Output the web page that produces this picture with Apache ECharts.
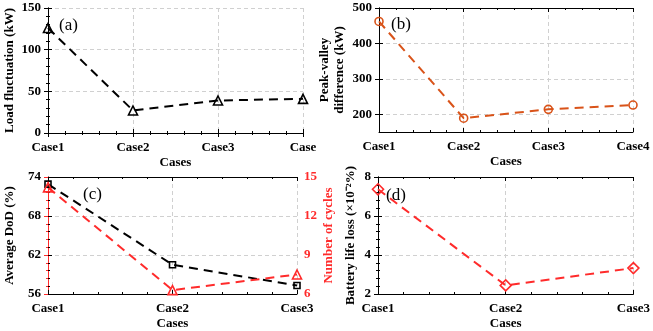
<!DOCTYPE html>
<html><head><meta charset="utf-8">
<script src="https://cdn.jsdelivr.net/npm/echarts@6/dist/echarts.min.js"></script>
<style>html,body{margin:0;padding:0;background:#fff}#c{width:653px;height:331px}</style>
</head><body><div id="c"></div>
<script>
// ---- data ----
const casesA = ["Case1", "Case2", "Case3", "Case4"];
const xTickLabelsA = ["Case1", "Case2", "Case3", "Case"];
const loadFluctuation = [126, 27, 39, 41];
const yTicksA = [0, 50, 100, 150];

const casesB = ["Case1", "Case2", "Case3", "Case4"];
const peakValley = [462, 189, 214, 226];
const yRangeB = [150, 500];
const yTicksB = [200, 300, 400, 500];

const casesC = ["Case1", "Case2", "Case3"];
const avgDoD = [72.9, 60.5, 57.3];
const numCycles = [14.2, 6.3, 7.5];
const yTicksC = [56, 62, 68, 74];
const yTicksC2 = [6, 9, 12, 15];

const casesD = ["Case1", "Case2", "Case3"];
const lifeLoss = [7.37, 2.44, 3.33];
const yTicksD = [2, 4, 6, 8];

// ---- styles ----
const FONT = "'Liberation Serif','Times New Roman',serif";
const BLACK = '#000';
const ORANGE = '#D95319';
const RED = '#ff2b2b';
const grids = [
  {left: 48, top: 8, width: 255, height: 125},
  {left: 379, top: 8, width: 254, height: 124},
  {left: 48, top: 177, width: 249, height: 125},
  {left: 378, top: 177, width: 257, height: 123}
];
const splitLineStyle = {show: true, lineStyle: {color: '#d0d0d0', type: [4, 3], width: 1}};

function xMain(gi, labels, name) {
  return {
    type: 'value', gridIndex: gi, min: 0, max: labels.length - 1, interval: 1,
    axisLine: {show: true, lineStyle: {color: BLACK, width: 1}},
    axisTick: {show: true, inside: true, length: 4, lineStyle: {color: BLACK}},
    minorTick: {show: true, splitNumber: 5, length: 2, lineStyle: {color: BLACK}},
    axisLabel: {formatter: v => labels[Math.round(v)] || '', color: BLACK, fontFamily: FONT, fontWeight: 'bold', fontSize: 13, margin: 8, showMinLabel: true, showMaxLabel: true, hideOverlap: false},
    splitLine: splitLineStyle,
    name: name, nameLocation: 'middle', nameGap: 23,
    nameTextStyle: {color: BLACK, fontFamily: FONT, fontWeight: 'bold', fontSize: 13}
  };
}
function xMirror(gi, n) {
  return {
    type: 'value', gridIndex: gi, position: 'top', min: 0, max: n - 1, interval: 1,
    axisLine: {show: true, lineStyle: {color: BLACK, width: 1}},
    axisTick: {show: true, inside: true, length: 4, lineStyle: {color: BLACK}},
    minorTick: {show: true, splitNumber: 5, length: 2, lineStyle: {color: BLACK}},
    axisLabel: {show: false}, splitLine: {show: false}
  };
}
function yAxis(gi, ticks, name, gap, color, pos, extra) {
  const a = {
    type: 'value', gridIndex: gi, position: pos || 'left',
    min: ticks[0], max: ticks[ticks.length - 1], interval: ticks[1] - ticks[0],
    axisLine: {show: true, lineStyle: {color: color, width: 1}},
    axisTick: {show: true, inside: true, length: 4, lineStyle: {color: color}},
    minorTick: {show: true, splitNumber: 5, length: 2, lineStyle: {color: color}},
    axisLabel: {color: color, fontFamily: FONT, fontWeight: 'bold', fontSize: 13, margin: 7},
    splitLine: pos === 'right' ? {show: false} : splitLineStyle,
    name: name, nameLocation: 'middle', nameGap: gap, nameRotate: 90,
    nameTextStyle: {color: color, fontFamily: FONT, fontWeight: 'bold', fontSize: 13, lineHeight: 15}
  };
  return Object.assign(a, extra || {});
}
function yMirror(gi, min, max, interval) {
  return {
    type: 'value', gridIndex: gi, position: 'right', min: min, max: max, interval: interval,
    axisLine: {show: true, lineStyle: {color: BLACK, width: 1}},
    axisTick: {show: true, inside: true, length: 4, lineStyle: {color: BLACK}},
    minorTick: {show: true, splitNumber: 5, length: 2, lineStyle: {color: BLACK}},
    axisLabel: {show: false}, splitLine: {show: false}
  };
}
function pts(vals) { return vals.map((v, i) => [i, v]); }
function lineSeries(xi, yi, vals, color, symbol, size) {
  return {
    type: 'line', xAxisIndex: xi, yAxisIndex: yi, data: pts(vals), clip: false,
    symbol: symbol, symbolSize: size, showSymbol: true,
    lineStyle: {color: color, width: 2, type: [9, 6]},
    itemStyle: {color: 'rgba(255,255,255,0)', borderColor: color, borderWidth: 1.6},
    animation: false, z: 5
  };
}

const xAxes = [
  xMain(0, xTickLabelsA, 'Cases'),          // 0
  xMain(1, casesB, 'Cases'),                // 1
  xMain(2, casesC, 'Cases'),                // 2
  xMain(3, casesD, 'Cases'),                // 3
  xMirror(0, casesA.length),                // 4
  xMirror(1, casesB.length),                // 5
  xMirror(2, casesC.length),                // 6
  xMirror(3, casesD.length)                 // 7
];
const yAxes = [
  yAxis(0, yTicksA, 'Load fluctuation (kW)', 31, BLACK),                        // 0
  yAxis(1, yTicksB, 'Peak-valley\ndifference (kW)', 32, BLACK, 'left', {
    min: yRangeB[0], max: yRangeB[1], interval: 50,
    axisLabel: {color: BLACK, fontFamily: FONT, fontWeight: 'bold', fontSize: 13, margin: 7, customValues: yTicksB},
    axisTick: {show: true, inside: true, length: 4, lineStyle: {color: BLACK}, customValues: yTicksB},
    minorTick: {show: false},
    splitLine: {show: true, lineStyle: {color: '#d0d0d0', type: [4, 3], width: 1}}
  }),                                                                            // 1
  yAxis(2, yTicksC, 'Average DoD (%)', 31, BLACK),                               // 2
  yAxis(2, yTicksC2, 'Number of cycles', 23, RED, 'right'),                      // 3
  yAxis(3, yTicksD, 'Battery life loss (×10⁻²%)', 20, BLACK),                     // 4
  yMirror(0, yTicksA[0], yTicksA[3], 50),                                        // 5
  yMirror(1, yRangeB[0], yRangeB[1], 50),                                        // 6
  yMirror(3, yTicksD[0], yTicksD[3], 2)                                          // 7
];
yAxes[6].minorTick = {show: false};
yAxes[6].axisTick.customValues = yTicksB;

const option = {
  backgroundColor: '#fff',
  animation: false,
  grid: grids,
  xAxis: xAxes,
  yAxis: yAxes,
  series: [
    lineSeries(0, 0, loadFluctuation, BLACK, 'triangle', 9),
    lineSeries(1, 1, peakValley, ORANGE, 'circle', 8),
    lineSeries(2, 2, avgDoD, BLACK, 'rect', 6),
    lineSeries(2, 3, numCycles, RED, 'triangle', 9),
    lineSeries(3, 4, lifeLoss, RED, 'diamond', 11)
  ],
  graphic: [
    {type: 'text', left: 59, top: 17, style: {text: '(a)', font: "17px " + FONT, fill: '#000'}},
    {type: 'text', left: 391, top: 16, style: {text: '(b)', font: "17px " + FONT, fill: '#000'}},
    {type: 'text', left: 83, top: 186, style: {text: '(c)', font: "17px " + FONT, fill: '#000'}},
    {type: 'text', left: 386, top: 187, style: {text: '(d)', font: "17px " + FONT, fill: '#000'}}
  ]
};
const chart = echarts.init(document.getElementById('c'), null, {renderer: 'canvas'});
chart.setOption(option);
</script></body></html>
